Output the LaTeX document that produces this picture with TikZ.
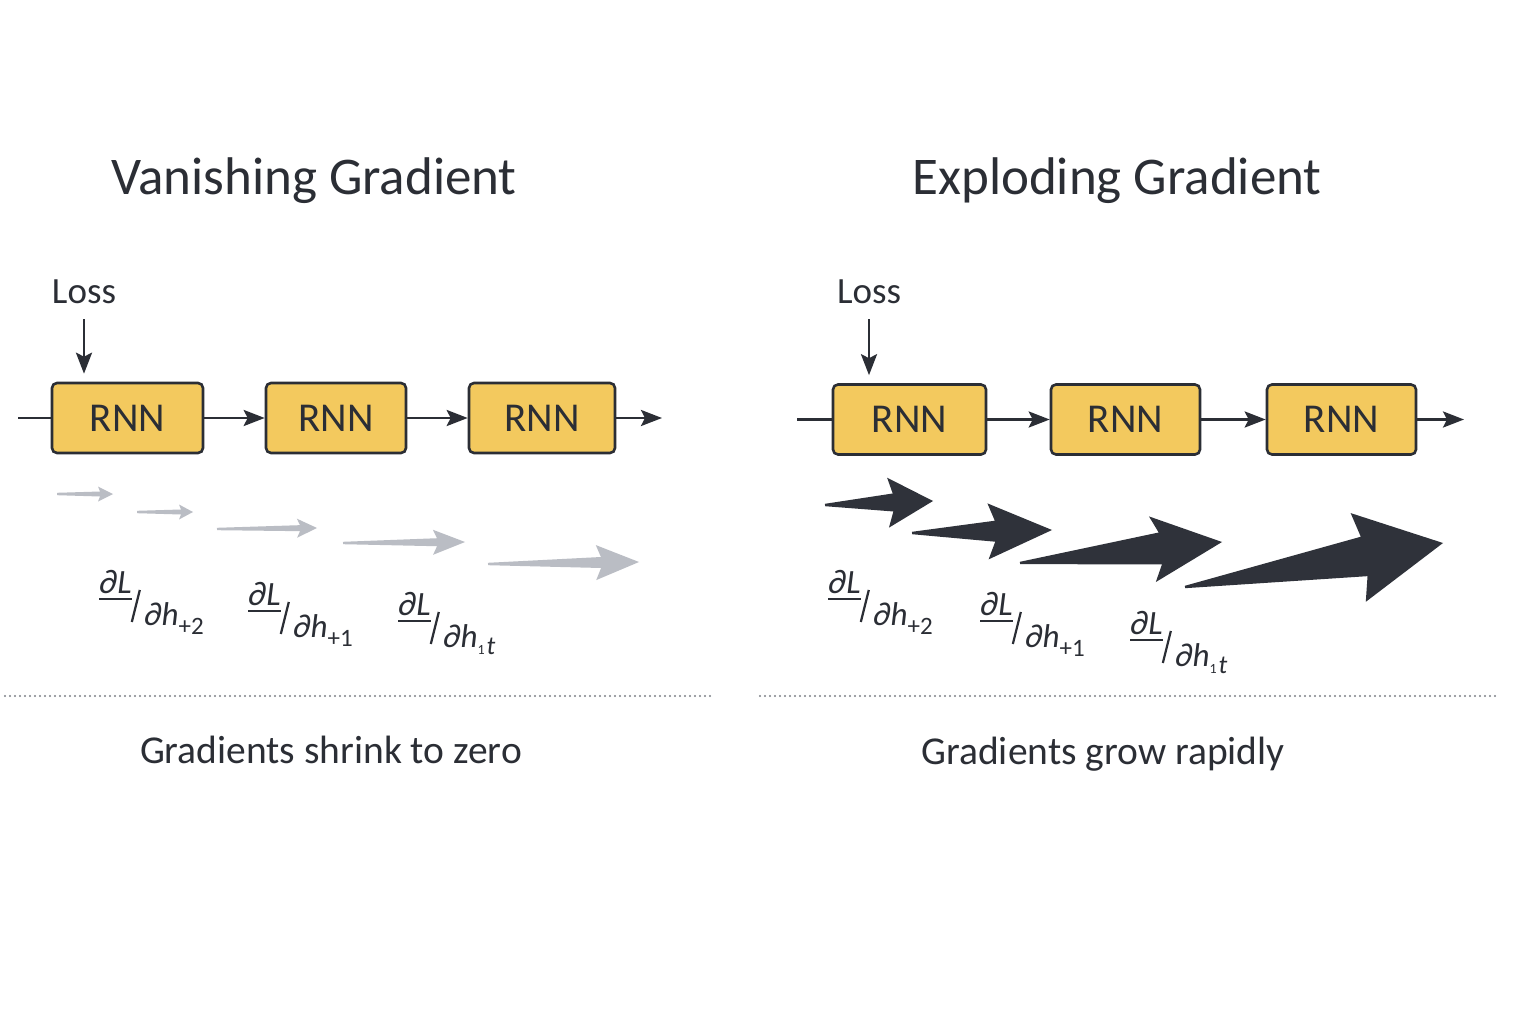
\documentclass[tikz,border=0pt]{standalone}
\usepackage{fontspec}
\setmainfont{Carlito}
\usetikzlibrary{calc,arrows.meta}
\definecolor{ink}{HTML}{2B2E35}
\definecolor{boxfill}{HTML}{F3C95E}
\definecolor{grayarr}{HTML}{BABDC4}
\definecolor{darkarr}{HTML}{2F323A}
\definecolor{dotgray}{HTML}{7E8187}

% tapered gradient arrow: #1 tail, #2 tip, #3 barb distance from tip, #4 join distance, #5 head half width, #6 shaft half width, #7 colour
\newcommand\gradarrow[7]{%
  \coordinate (gT) at (#1);
  \coordinate (gH) at (#2);
  \coordinate (gB) at ($(gH)!#3!(gT)$);
  \coordinate (gJ) at ($(gH)!#4!(gT)$);
  \fill[#7] ($(gT)!1.2pt!90:(gH)$) -- ($(gJ)!#6!90:(gH)$) -- ($(gB)!#5!90:(gH)$) -- (gH)
    -- ($(gB)!#5!-90:(gH)$) -- ($(gJ)!#6!-90:(gH)$) -- ($(gT)!1.2pt!-90:(gH)$) -- cycle;
}

% gradient label: #1 name, #2 x, #3 y (numerator baseline), #4 subscript
\newcommand\gradlabel[4]{%
  \node[numtxt, anchor=base west] (#1n) at (#2,#3) {∂L};
  \draw[fracbar] ([yshift=-6pt]#1n.base west) -- ([yshift=-6pt]#1n.base east);
  \draw[slashline] ([xshift=0pt,yshift=-29pt]#1n.base east) -- ([xshift=8pt,yshift=3pt]#1n.base east);
  \node[dentxt, anchor=base west] (#1d) at ([xshift=12pt,yshift=-32pt]#1n.base east) {∂h#4};
}

\newcommand\subpm[1]{\raisebox{-9pt}{\fontsize{25}{25}\selectfont\upshape #1}}
\newcommand\subt{\raisebox{-7pt}{\fontsize{14}{14}\selectfont\upshape 1}\kern2pt\raisebox{-7pt}{\fontsize{26}{26}\selectfont t}}

\tikzset{
  title/.style={font=\fontsize{53}{60}\selectfont, text=ink, inner sep=0, anchor=base},
  rnn/.style={draw=ink, fill=boxfill, line width=2.6pt, rounded corners=5pt, minimum height=70pt,
    font=\fontsize{41}{44}\selectfont, text=ink, inner sep=0},
  losstxt/.style={font=\fontsize{37}{40}\selectfont, text=ink, inner sep=0},
  conn/.style={draw=ink, line width=2.8pt, -{Stealth[length=21pt,width=16pt,inset=4pt]}},
  plainline/.style={draw=ink, line width=2.8pt},
  captiontxt/.style={font=\fontsize{39.5}{44}\selectfont, text=ink, inner sep=0, anchor=base},
  numtxt/.style={font=\fontsize{34}{34}\selectfont\itshape, text=ink, inner sep=0},
  dentxt/.style={font=\fontsize{33}{33}\selectfont\itshape, text=ink, inner sep=0},
  fracbar/.style={draw=ink, line width=1.3pt},
  slashline/.style={draw=ink, line width=2.2pt},
  dotline/.style={draw=dotgray, line width=2.3pt, dash pattern=on 0pt off 5pt, line cap=round},
}

\begin{document}
\begin{tikzpicture}[x=1pt,y=-1pt]
\useasboundingbox (0,0) rectangle (1536,1024);
\fill[white] (0,0) rectangle (1536,1024);

% titles
\node[title] (tL) at (314,195) {Vanishing Gradient};
\node[title] (tR) at (1117,195) {Exploding Gradient};

% ---------- left ----------
\node[losstxt] (lossL) at (84,292) {Loss};
\node[rnn, minimum width=151pt] (bL1) at (127.5,418) {RNN};
\node[rnn, minimum width=140pt] (bL2) at (336,418) {RNN};
\node[rnn, minimum width=146pt] (bL3) at (542,418) {RNN};
\coordinate (inL) at (18,418);
\coordinate (outL) at (662,418);
\draw[plainline] (inL) -- (bL1);
\draw[conn] (bL1) -- (bL2);
\draw[conn] (bL2) -- (bL3);
\draw[conn] (bL3) -- (outL);
\draw[conn, shorten >=8pt] ([yshift=-15pt]lossL.south) -- (lossL.south |- bL1.north);

\gradarrow{57,494}{113,494}{15pt}{13pt}{7.5pt}{2.5pt}{grayarr}
\gradarrow{137,512}{193,512}{14pt}{12pt}{7.5pt}{2.5pt}{grayarr}
\gradarrow{217,529}{317,528}{20pt}{17pt}{9.5pt}{3pt}{grayarr}
\gradarrow{343,543}{465,542}{32pt}{28pt}{12.5pt}{4pt}{grayarr}
\gradarrow{488,564}{639,562}{43pt}{38pt}{17.5pt}{5.5pt}{grayarr}

\gradlabel{gL1}{99}{593}{\subpm{+2}}
\gradlabel{gL2}{248}{605}{\subpm{+1}}
\gradlabel{gL3}{398}{615}{\subt}

\coordinate (dL1) at (5,696);
\coordinate (dL2) at (710,696);
\draw[dotline] (dL1) -- (dL2);
\node[captiontxt] (cL) at (331,763) {Gradients shrink to zero};

% ---------- right ----------
\node[losstxt] (lossR) at (869,292) {Loss};
\node[rnn, minimum width=153pt] (bR1) at (909.5,419.5) {RNN};
\node[rnn, minimum width=149pt] (bR2) at (1125.5,419.5) {RNN};
\node[rnn, minimum width=149pt] (bR3) at (1341.5,419.5) {RNN};
\coordinate (inR) at (797,419.5);
\coordinate (outR) at (1464,419.5);
\draw[plainline] (inR) -- (bR1);
\draw[conn] (bR1) -- (bR2);
\draw[conn] (bR2) -- (bR3);
\draw[conn] (bR3) -- (outR);
\draw[conn, shorten >=8pt] ([yshift=-15pt]lossR.south) -- (lossR.south |- bR1.north);

\gradarrow{825,505}{933,501}{45pt}{40pt}{25pt}{9pt}{darkarr}
\gradarrow{912,533}{1052,530}{64pt}{57pt}{28pt}{10.5pt}{darkarr}
\gradarrow{1020,563}{1222,542}{70pt}{62pt}{33pt}{16pt}{darkarr}
\gradarrow{1185,587}{1443,543}{86pt}{80pt}{45pt}{20pt}{darkarr}

\gradlabel{gR1}{828}{593}{\subpm{+2}}
\gradlabel{gR2}{980}{615}{\subpm{+1}}
\gradlabel{gR3}{1130}{634}{\subt}

\coordinate (dR1) at (760,696);
\coordinate (dR2) at (1496,696);
\draw[dotline] (dR1) -- (dR2);
\node[captiontxt] (cR) at (1103,764) {Gradients grow rapidly};
\end{tikzpicture}
\end{document}
